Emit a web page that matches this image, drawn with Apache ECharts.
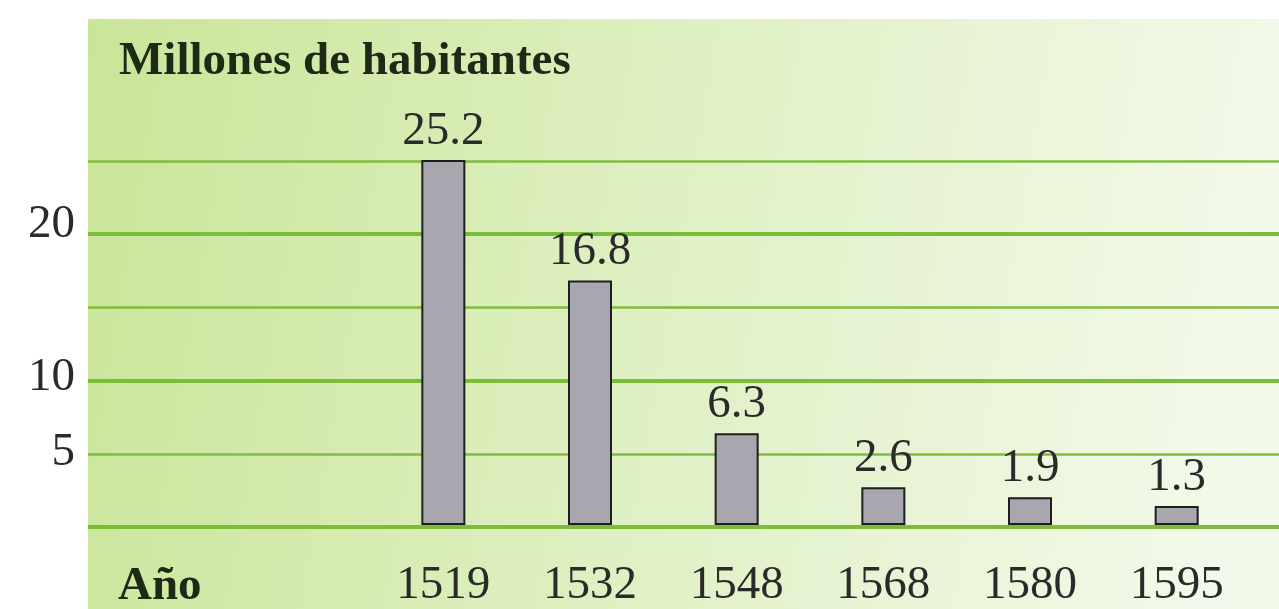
<!DOCTYPE html>
<html>
<head>
<meta charset="utf-8">
<script src="https://cdn.jsdelivr.net/npm/echarts@6/dist/echarts.min.js"></script>
<style>
  html, body { margin: 0; padding: 0; background: #ffffff; }
  #chart { width: 1279px; height: 609px; }
</style>
</head>
<body>
<div id="chart"></div>
<script>
// Población (millones de habitantes) por año
const years = ['1519', '1532', '1548', '1568', '1580', '1595'];
const population = [25.2, 16.8, 6.3, 2.6, 1.9, 1.3];
const yTickLabels = [5, 10, 20];

const SERIF = '"Liberation Serif", "Times New Roman", serif';
const NUM_SIZE = 47;

const chart = echarts.init(document.getElementById('chart'), null, { renderer: 'canvas' });

// per-label vertical nudges for the value-axis numbers
const tickRich = {
  t5:  { fontFamily: SERIF, fontSize: NUM_SIZE, color: '#2a2a2a', padding: [0, 0, 2, 0] },
  t10: { fontFamily: SERIF, fontSize: NUM_SIZE, color: '#2a2a2a', padding: [0, 0, 6, 0] },
  t20: { fontFamily: SERIF, fontSize: NUM_SIZE, color: '#2a2a2a', padding: [0, 0, 20, 0] }
};

const option = {
  backgroundColor: '#ffffff',
  animation: false,
  graphic: [
    {
      type: 'rect',
      z: -10,
      silent: true,
      shape: { x: 88, y: 19, width: 1191, height: 590 },
      style: {
        fill: new echarts.graphic.LinearGradient(0, 0, 1, 0.35, [
          { offset: 0, color: '#c9e598' },
          { offset: 0.45, color: '#ddefbf' },
          { offset: 1, color: '#f3f9ea' }
        ])
      }
    },
    {
      type: 'text',
      left: 119,
      top: 38,
      style: {
        text: 'Millones de habitantes',
        font: 'bold 47px ' + SERIF,
        fill: '#1d2a15'
      }
    },
    {
      type: 'text',
      left: 118,
      top: 563,
      style: {
        text: 'Año',
        font: 'bold ' + NUM_SIZE + 'px ' + SERIF,
        fill: '#1d2a15'
      }
    }
  ],
  grid: [
    // thin lines every 5 units + value labels
    { left: 88, right: 0, top: 161, bottom: 82 },
    // thick lines at 0, 10, 20
    { left: 88, right: 0, top: 234, bottom: 82 },
    // bars
    { left: 370, right: 29, top: 161, bottom: 82 }
  ],
  xAxis: [
    { gridIndex: 0, type: 'value', show: false },
    { gridIndex: 1, type: 'value', show: false },
    {
      gridIndex: 2,
      type: 'category',
      data: years,
      axisLine: { show: false },
      axisTick: { show: false },
      axisLabel: {
        margin: 37,
        fontFamily: SERIF,
        fontSize: NUM_SIZE,
        color: '#2a2a2a'
      }
    }
  ],
  yAxis: [
    {
      gridIndex: 0,
      type: 'value',
      min: 0,
      max: 25,
      interval: 5,
      axisLine: { show: false },
      axisTick: { show: false },
      splitLine: { show: true, lineStyle: { color: '#7fbd3e', width: 2.5 } },
      axisLabel: {
        margin: 13,
        formatter: v => yTickLabels.includes(v) ? '{t' + v + '|' + v + '}' : '',
        rich: tickRich
      }
    },
    {
      gridIndex: 1,
      type: 'value',
      min: 0,
      max: 20,
      interval: 10,
      axisLine: { show: false },
      axisTick: { show: false },
      axisLabel: { show: false },
      splitLine: { show: true, lineStyle: { color: '#7cbd37', width: 4 } }
    },
    {
      gridIndex: 2,
      type: 'value',
      min: 0,
      max: 25,
      show: false,
      splitLine: { show: false }
    }
  ],
  series: [
    {
      type: 'bar',
      xAxisIndex: 2,
      yAxisIndex: 2,
      data: population,
      barWidth: 44,
      z: 5,
      itemStyle: {
        color: '#a8a6ae',
        borderColor: '#1e1e1e',
        borderWidth: 2
      },
      label: {
        show: true,
        position: 'top',
        distance: 5,
        fontFamily: SERIF,
        fontSize: NUM_SIZE,
        color: '#2a2a2a',
        formatter: p => p.value.toFixed(1)
      }
    }
  ]
};

chart.setOption(option);
</script>
</body>
</html>
